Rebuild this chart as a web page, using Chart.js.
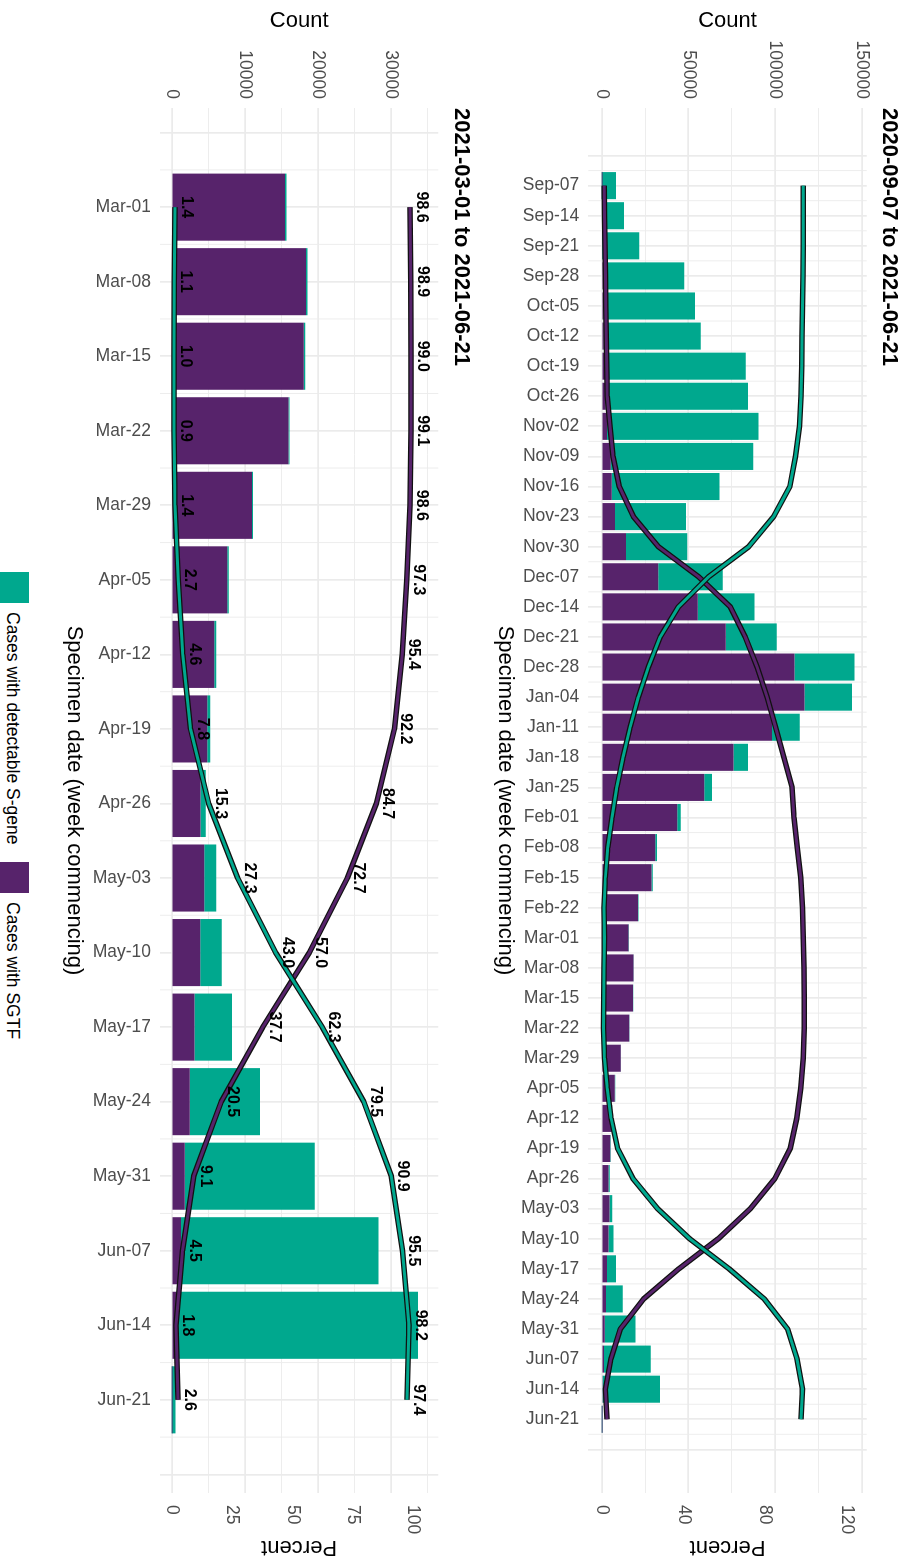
<!DOCTYPE html>
<html>
<head>
<meta charset="utf-8">
<title>Cases with SGTF by specimen week</title>
<script src="https://cdn.jsdelivr.net/npm/chart.js@4.4.1/dist/chart.umd.min.js"></script>
<style>
  html, body { margin: 0; padding: 0; background: #fff; overflow: hidden; width: 911px; height: 1562px; }
  /* the plot is laid out landscape and turned a quarter clockwise */
  #page { position: absolute; left: 0; top: 0; width: 1562px; height: 911px; overflow: hidden; background: #fff;
          transform-origin: 0 0; transform: translate(911px, 0) rotate(90deg);
          font-family: "Liberation Sans", Arial, sans-serif; }
  canvas { position: absolute; left: 0; display: block; }
  #allWeeks { top: 0; }
  #recentWeeks { top: 431px; }
  .key { position: absolute; top: 882px; width: 31px; height: 31px; }
  .keyText { position: absolute; top: 887px; font-size: 17.5px; line-height: 22px; color: #000; white-space: nowrap; }
</style>
</head>
<body>
<div id="page">
  <canvas id="allWeeks" width="1562" height="431"></canvas>
  <canvas id="recentWeeks" width="1562" height="440"></canvas>
</div>
<script>
const GREEN = '#00A88E';
const PURPLE = '#57236B';
const OUTLINE = '#111111';
const TICK_COLOR = '#4D4D4D';
const GRID_COLOR = '#EBEBEB';
const FONT = '"Liberation Sans", Arial, sans-serif';

const seriesNames = ['Cases with detectable S-gene', 'Cases with SGTF'];

// panel 1: 2020-09-07 to 2021-06-21
const weeksAll = ['Sep-07','Sep-14','Sep-21','Sep-28','Oct-05','Oct-12','Oct-19','Oct-26','Nov-02','Nov-09',
  'Nov-16','Nov-23','Nov-30','Dec-07','Dec-14','Dec-21','Dec-28','Jan-04','Jan-11','Jan-18','Jan-25',
  'Feb-01','Feb-08','Feb-15','Feb-22','Mar-01','Mar-08','Mar-15','Mar-22','Mar-29','Apr-05','Apr-12',
  'Apr-19','Apr-26','May-03','May-10','May-17','May-24','May-31','Jun-07','Jun-14','Jun-21'];
const sgtfAll = [90,170,330,810,1020,1200,1990,2360,3000,5200,5800,7700,14000,32700,55400,71600,111200,
  117000,98300,76000,59200,43600,30900,28700,20900,15480,18350,18060,15950,10960,7590,5820,4870,3940,
  4430,3900,3110,2480,1780,1270,610,13];
const sgeneAll = [8160,12700,21370,46890,52780,55900,81110,82040,87400,82300,62100,40900,35400,37100,
  32700,29400,34600,27400,15900,8400,4400,2000,1000,700,400,220,200,180,140,160,210,280,410,710,1670,
  2940,5140,9600,17780,26990,33040,490];
const sgtfPctAll = [1.2,1.4,1.6,1.8,2.0,2.2,2.5,2.7,4.1,5.5,8.6,15.5,27.7,47.4,62.9,70.2,76.0,80.9,85.0,
  89.1,93.1,94.0,95.6,97.3,98.2,98.6,98.9,99.0,99.1,98.6,97.3,95.4,92.2,84.7,72.7,57.0,37.7,20.5,9.1,
  4.5,1.8,2.6];
const sgenePctAll = [98.6,98.6,98.5,98.4,98.2,98.0,97.8,97.5,96.7,94.8,92.0,84.1,71.9,52.3,37.5,28.6,
  22.8,17.9,13.9,10.4,7.4,5.0,3.0,1.8,1.1,1.4,1.1,1.0,0.9,1.4,2.7,4.6,7.8,15.3,27.3,43.0,62.3,79.5,
  90.9,95.5,98.2,97.4];
const countTicksAll = [0, 50000, 100000, 150000];
const pctTicksAll = [0, 40, 80, 120];

// panel 2: 2021-03-01 to 2021-06-21
const weeksRecent = ['Mar-01','Mar-08','Mar-15','Mar-22','Mar-29','Apr-05','Apr-12','Apr-19','Apr-26',
  'May-03','May-10','May-17','May-24','May-31','Jun-07','Jun-14','Jun-21'];
const sgtfRecent = [15480,18350,18060,15950,10960,7590,5820,4870,3940,4430,3900,3110,2480,1780,1270,610,13];
const sgeneRecent = [220,200,180,140,160,210,280,410,710,1670,2940,5140,9600,17780,26990,33040,490];
const sgtfPctRecent = [98.6,98.9,99.0,99.1,98.6,97.3,95.4,92.2,84.7,72.7,57.0,37.7,20.5,9.1,4.5,1.8,2.6];
const sgenePctRecent = [1.4,1.1,1.0,0.9,1.4,2.7,4.6,7.8,15.3,27.3,43.0,62.3,79.5,90.9,95.5,98.2,97.4];
const countTicksRecent = [0, 10000, 20000, 30000];
const pctTicksRecent = [0, 25, 50, 75, 100];

Chart.defaults.font.family = FONT;

const pts = arr => arr.map((v, i) => ({ x: i, y: v }));

// one tick per week; the half-week lines are drawn by minorWeekGrid so the
// bar ruler still sees a full week between ticks
function weekTicks(first, last) {
  const t = [];
  for (let v = first; v <= last; v++) t.push({ value: v });
  return t;
}

// major count breaks plus the minor ones halfway between
function countGrid(majors, min, max) {
  const half = (majors[1] - majors[0]) / 2;
  const t = [];
  for (let v = majors[0] - half; v <= max; v += half) {
    if (v >= min) t.push({ value: v });
  }
  return t;
}

const minorWeekGrid = {
  id: 'minorWeekGrid',
  beforeDatasetsDraw(chart, args, opts) {
    const x = chart.scales.x;
    const area = chart.chartArea;
    const c = chart.ctx;
    c.save();
    c.strokeStyle = GRID_COLOR;
    c.lineWidth = 0.9;
    for (let v = opts.first + 0.5; v < opts.last; v++) {
      const px = x.getPixelForValue(v);
      c.beginPath();
      c.moveTo(px, area.top);
      c.lineTo(px, area.bottom);
      c.stroke();
    }
    c.restore();
  }
};

// value labels above each point of the percent lines
const valueLabels = {
  id: 'valueLabels',
  afterDatasetsDraw(chart) {
    const c = chart.ctx;
    c.save();
    c.font = 'bold 16px ' + FONT;
    c.fillStyle = '#000';
    c.textAlign = 'center';
    c.textBaseline = 'alphabetic';
    chart.data.datasets.forEach((ds, i) => {
      if (!ds.labelled) return;
      chart.getDatasetMeta(i).data.forEach((pt, j) => {
        c.fillText(ds.data[j].y.toFixed(1), pt.x, pt.y - 7);
      });
    });
    c.restore();
  }
};

// ggplot style title, left aligned with the panel
const panelTitle = {
  id: 'panelTitle',
  afterDraw(chart, args, opts) {
    const c = chart.ctx;
    c.save();
    c.font = 'bold 22px ' + FONT;
    c.fillStyle = '#000';
    c.textAlign = 'left';
    c.textBaseline = 'middle';
    c.fillText(opts.text, chart.chartArea.left, chart.chartArea.top - 22.5);
    c.restore();
  }
};

function buildPanel(canvasId, p) {
  const tickFont = { size: 17.5, family: FONT };
  const titleFont = { size: 22, family: FONT };
  return new Chart(document.getElementById(canvasId), {
    type: 'bar',
    data: {
      datasets: [
        { type: 'line', data: pts(p.sgenePct), yAxisID: 'y1', borderColor: GREEN, borderWidth: 3,
          order: 0, pointRadius: 0, tension: 0, borderJoinStyle: 'round', labelled: p.labels },
        { type: 'line', data: pts(p.sgenePct), yAxisID: 'y1', borderColor: OUTLINE, borderWidth: 5.5,
          order: 1, pointRadius: 0, tension: 0, borderJoinStyle: 'round' },
        { type: 'line', data: pts(p.sgtfPct), yAxisID: 'y1', borderColor: PURPLE, borderWidth: 3,
          order: 2, pointRadius: 0, tension: 0, borderJoinStyle: 'round', labelled: p.labels },
        { type: 'line', data: pts(p.sgtfPct), yAxisID: 'y1', borderColor: OUTLINE, borderWidth: 5.5,
          order: 3, pointRadius: 0, tension: 0, borderJoinStyle: 'round' },
        { label: seriesNames[1], data: pts(p.sgtf), yAxisID: 'y', backgroundColor: PURPLE, order: 4,
          barPercentage: 0.9, categoryPercentage: 1.0 },
        { label: seriesNames[0], data: pts(p.sgene), yAxisID: 'y', backgroundColor: GREEN, order: 5,
          barPercentage: 0.9, categoryPercentage: 1.0 }
      ]
    },
    options: {
      responsive: false,
      animation: false,
      layout: { padding: { top: p.areaTop, left: 0, right: 0, bottom: 0 } },
      plugins: {
        legend: { display: false },
        tooltip: { enabled: false },
        panelTitle: { text: p.title },
        minorWeekGrid: { first: -1, last: p.weeks.length }
      },
      scales: {
        x: {
          type: 'linear', min: p.xMin, max: p.xMax, stacked: true, offset: false,
          afterBuildTicks: s => { s.ticks = weekTicks(-1, p.weeks.length); },
          afterFit: s => { s.height = p.xHeight; },
          grid: { offset: false, drawTicks: false, color: GRID_COLOR, lineWidth: 1.7 },
          border: { display: false },
          ticks: {
            autoSkip: false, minRotation: 90, maxRotation: 90, padding: 9,
            color: TICK_COLOR, font: tickFont,
            callback: v => (v >= 0 && v < p.weeks.length) ? p.weeks[v] : ''
          },
          title: { display: true, text: 'Specimen date (week commencing)', color: '#000', font: titleFont,
                   padding: { top: 0, bottom: p.xTitlePad } }
        },
        y: {
          position: 'left', min: p.countMin, max: p.countMax, stacked: true,
          afterBuildTicks: s => { s.ticks = countGrid(p.countTicks, p.countMin, p.countMax); },
          afterFit: s => { s.width = 108; },
          grid: { drawTicks: false, color: GRID_COLOR,
                  lineWidth: c => p.countTicks.includes(c.tick.value) ? 1.7 : 0.9 },
          border: { display: false },
          ticks: { padding: 9, color: TICK_COLOR, font: tickFont,
                   callback: v => p.countTicks.includes(v) ? String(v) : '' },
          title: { display: true, text: 'Count', color: '#000', font: titleFont, padding: { top: 8, bottom: 0 } }
        },
        y1: {
          position: 'right', min: p.pctMin, max: p.pctMax, stacked: false,
          afterBuildTicks: s => { s.ticks = p.pctTicks.map(v => ({ value: v })); },
          afterFit: s => { s.width = 69; },
          grid: { display: false, drawTicks: false },
          border: { display: false },
          ticks: { padding: 12, color: TICK_COLOR, font: tickFont, callback: v => String(v) },
          title: { display: true, text: 'Percent', color: '#000', font: titleFont, padding: { top: 2, bottom: 0 } }
        }
      }
    },
    plugins: [minorWeekGrid, valueLabels, panelTitle]
  });
}

buildPanel('allWeeks', {
  title: '2020-09-07 to 2021-06-21',
  weeks: weeksAll, sgtf: sgtfAll, sgene: sgeneAll, sgtfPct: sgtfPctAll, sgenePct: sgenePctAll,
  countTicks: countTicksAll, pctTicks: pctTicksAll, labels: false,
  xMin: -2.58, xMax: 43.45, countMin: -7730, countMax: 152900, pctMin: -6.55, pctMax: 129.58,
  areaTop: 44.3, xHeight: 108.3, xTitlePad: 11.8
});

buildPanel('recentWeeks', {
  title: '2021-03-01 to 2021-06-21',
  weeks: weeksRecent, sgtf: sgtfRecent, sgene: sgeneRecent, sgtfPct: sgtfPctRecent, sgenePct: sgenePctRecent,
  countTicks: countTicksRecent, pctTicks: pctTicksRecent, labels: true,
  xMin: -1.33, xMax: 17.25, countMin: -1600, countMax: 36430, pctMin: -4.846, pctMax: 110.35,
  areaTop: 41.7, xHeight: 120, xTitlePad: 20.8
});

// shared legend along the bottom of the landscape layout
const page = document.getElementById('page');
const legendItems = [
  { name: seriesNames[0], color: GREEN, keyLeft: 572, textLeft: 612 },
  { name: seriesNames[1], color: PURPLE, keyLeft: 862, textLeft: 902 }
];
legendItems.forEach(item => {
  const key = document.createElement('div');
  key.className = 'key';
  key.style.left = item.keyLeft + 'px';
  key.style.background = item.color;
  page.appendChild(key);
  const text = document.createElement('div');
  text.className = 'keyText';
  text.style.left = item.textLeft + 'px';
  text.textContent = item.name;
  page.appendChild(text);
});
</script>
</body>
</html>
